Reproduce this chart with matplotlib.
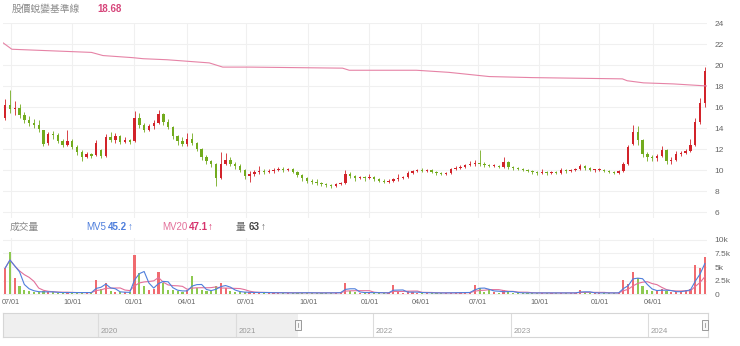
import numpy as np
import pandas as pd
import matplotlib
matplotlib.use('Agg')
import matplotlib.pyplot as plt
from matplotlib.patches import Rectangle

plt.rcParams['font.family'] = ['Liberation Sans', 'Noto Sans CJK TC', 'DejaVu Sans']

# weekly bars (5 trading days each), first week starts 2021-06-21
open_ = [15.0, 16.2, 15.8, 15.9, 15.2, 14.8, 14.5, 14.3, 13.8, 12.6,
         13.4, 13.3, 12.8, 12.4, 12.8, 12.2, 11.7, 11.2, 11.5, 11.4,
         11.9, 11.3, 13.1, 12.9, 13.2, 12.7, 12.9, 12.8, 15.0, 14.3,
         13.8, 14.2, 14.5, 15.3, 14.6, 14.1, 13.2, 12.8, 12.5, 13.0,
         12.6, 12.0, 11.2, 10.9, 10.6, 9.2, 10.6, 11.0, 10.6, 10.4,
         10.0, 9.4, 9.6, 9.8, 9.9, 9.8, 9.9, 10.0, 10.1, 10.0,
         10.1, 9.8, 9.5, 9.2, 9.0, 8.9, 8.8, 8.7, 8.6, 8.5,
         8.7, 8.8, 9.6, 9.4, 9.2, 9.3, 9.2, 9.3, 9.1, 9.0,
         8.9, 9.0, 9.1, 9.2, 9.3, 9.7, 9.9, 10.0, 9.9, 10.0,
         9.8, 9.7, 9.6, 9.7, 10.1, 10.2, 10.3, 10.5, 10.6, 10.7,
         10.6, 10.5, 10.4, 10.4, 10.3, 10.8, 10.3, 10.2, 10.1, 10.0,
         9.9, 9.8, 9.7, 9.8, 9.7, 9.8, 9.7, 10.0, 9.9, 10.0,
         10.1, 10.4, 10.2, 10.0, 10.0, 10.0, 9.9, 9.8, 9.7, 9.9,
         10.6, 12.5, 13.6, 12.9, 11.5, 11.2, 11.1, 11.3, 11.9, 10.9,
         11.0, 11.5, 11.6, 11.8, 12.4, 14.6, 16.4]
close = [16.2, 15.8, 15.9, 15.2, 14.8, 14.5, 14.3, 13.9, 12.5, 13.4,
         13.3, 12.8, 12.4, 12.8, 12.2, 11.7, 11.2, 11.5, 11.3, 12.6,
         11.3, 13.1, 12.9, 13.2, 12.7, 12.9, 12.7, 15.0, 14.3, 13.8,
         14.2, 14.5, 15.3, 14.6, 14.1, 13.2, 12.8, 12.5, 13.0, 12.6,
         12.0, 11.2, 10.9, 10.6, 9.2, 10.6, 11.0, 10.6, 10.4, 10.0,
         9.4, 9.6, 9.8, 9.9, 9.8, 9.9, 10.0, 10.1, 10.0, 10.1,
         9.8, 9.5, 9.2, 9.0, 8.9, 8.8, 8.7, 8.6, 8.5, 8.7,
         8.8, 9.6, 9.4, 9.2, 9.3, 9.2, 9.3, 9.1, 9.0, 8.9,
         9.0, 9.1, 9.2, 9.3, 9.7, 9.9, 10.0, 9.9, 10.0, 9.8,
         9.7, 9.6, 9.7, 10.1, 10.2, 10.3, 10.5, 10.6, 10.7, 10.6,
         10.5, 10.4, 10.5, 10.3, 10.8, 10.3, 10.2, 10.1, 10.0, 9.9,
         9.8, 9.7, 9.8, 9.7, 9.8, 9.7, 10.0, 9.9, 10.0, 10.1,
         10.4, 10.2, 10.0, 10.0, 10.0, 9.9, 9.8, 9.7, 9.9, 10.6,
         12.2, 13.6, 12.9, 11.5, 11.2, 11.1, 11.3, 11.9, 10.9, 11.0,
         11.5, 11.6, 11.8, 12.4, 14.6, 16.4, 19.4]
high = [16.8, 17.6, 16.6, 16.3, 15.5, 15.1, 14.9, 14.8, 13.8, 13.6,
        13.7, 13.5, 13.0, 13.8, 13.0, 12.4, 11.9, 11.7, 11.6, 12.9,
        12.0, 13.4, 13.6, 13.5, 13.3, 13.1, 13.0, 15.6, 15.4, 14.5,
        14.4, 14.8, 15.7, 15.4, 14.9, 14.2, 13.3, 13.1, 13.5, 13.5,
        12.7, 12.1, 11.4, 11.0, 10.7, 11.7, 11.6, 11.2, 10.8, 10.6,
        10.1, 9.9, 10.0, 10.4, 10.1, 10.1, 10.2, 10.3, 10.3, 10.2,
        10.2, 9.9, 9.6, 9.3, 9.1, 9.1, 8.9, 8.8, 8.7, 8.8,
        8.9, 10.0, 9.8, 9.5, 9.4, 9.4, 9.6, 9.4, 9.2, 9.1,
        9.1, 9.2, 9.6, 9.4, 9.9, 10.0, 10.1, 10.2, 10.1, 10.1,
        9.9, 9.8, 9.8, 10.2, 10.4, 10.5, 10.6, 10.9, 11.0, 11.9,
        10.8, 10.6, 10.6, 10.5, 11.2, 10.9, 10.4, 10.3, 10.2, 10.1,
        10.0, 9.9, 10.1, 9.9, 9.9, 9.9, 10.2, 10.1, 10.1, 10.2,
        10.6, 10.5, 10.3, 10.1, 10.2, 10.1, 10.0, 9.9, 10.0, 10.8,
        12.4, 14.3, 14.2, 13.0, 11.7, 11.4, 11.5, 12.3, 12.0, 11.2,
        11.8, 11.8, 12.0, 13.0, 15.0, 16.9, 19.8]
low = [14.8, 15.4, 15.2, 15.0, 14.5, 14.2, 14.0, 13.6, 12.3, 12.4,
       13.0, 12.6, 12.2, 12.3, 12.0, 11.4, 10.9, 11.1, 11.1, 11.3,
       11.1, 11.2, 12.7, 12.6, 12.5, 12.6, 12.5, 12.7, 14.0, 13.6,
       13.7, 13.9, 14.4, 14.3, 13.9, 13.0, 12.4, 12.3, 12.3, 12.4,
       11.8, 11.0, 10.6, 10.3, 8.5, 9.1, 10.5, 10.4, 10.1, 9.8,
       9.1, 8.9, 9.4, 9.6, 9.6, 9.7, 9.7, 9.9, 9.8, 9.9,
       9.7, 9.3, 9.0, 8.8, 8.7, 8.6, 8.5, 8.4, 8.3, 8.4,
       8.6, 8.7, 9.2, 9.0, 9.1, 9.0, 9.1, 9.0, 8.9, 8.8,
       8.8, 8.9, 9.0, 9.1, 9.2, 9.6, 9.8, 9.8, 9.8, 9.7,
       9.5, 9.5, 9.5, 9.6, 10.0, 10.1, 10.2, 10.4, 10.4, 10.4,
       10.3, 10.3, 10.3, 10.2, 10.2, 10.1, 10.0, 10.0, 9.9, 9.8,
       9.6, 9.5, 9.6, 9.5, 9.6, 9.6, 9.6, 9.7, 9.8, 9.9,
       10.0, 10.0, 9.9, 9.8, 9.9, 9.8, 9.7, 9.6, 9.6, 9.8,
       10.5, 12.4, 12.4, 11.2, 10.9, 10.9, 10.9, 11.2, 10.6, 10.6,
       10.9, 11.3, 11.5, 11.7, 12.3, 14.4, 16.0]
volume = [4800, 7800, 3000, 1500, 800, 600, 400, 300, 500, 400,
          300, 250, 250, 300, 250, 250, 300, 250, 250, 2600,
          900, 2000, 500, 400, 300, 300, 300, 7200, 3800, 1500,
          800, 1000, 4000, 2000, 800, 700, 600, 400, 700, 3300,
          1200, 800, 500, 600, 1500, 2000, 1200, 600, 400, 350,
          300, 300, 250, 300, 250, 250, 200, 250, 200, 200,
          200, 250, 250, 200, 200, 200, 200, 200, 200, 250,
          300, 2000, 600, 300, 250, 250, 300, 250, 200, 200,
          200, 1700, 300, 250, 500, 300, 250, 250, 200, 200,
          200, 200, 200, 250, 250, 250, 300, 300, 1700, 1200,
          400, 1000, 300, 250, 700, 400, 250, 200, 200, 200,
          200, 200, 200, 200, 200, 200, 250, 200, 200, 200,
          700, 300, 200, 200, 200, 200, 200, 200, 200, 2600,
          1800, 4000, 3000, 1500, 800, 500, 600, 1000, 500, 400,
          400, 500, 800, 1000, 5300, 4800, 6800]

# 股價蛻變基準線
base_dates = ['2021-06-21', '2021-07-02', '2021-11-01', '2021-11-17', '2021-12-30',
              '2022-01-17', '2022-03-03', '2022-05-09', '2022-05-27', '2022-07-07',
              '2022-11-23', '2022-12-02', '2023-03-27', '2023-05-18', '2023-07-19',
              '2023-09-20', '2024-02-05', '2024-02-21', '2024-03-18', '2024-05-03',
              '2024-06-24']
base_vals = [22.1, 21.5, 21.2, 20.9, 20.7, 20.6, 20.5, 20.2, 19.8, 19.8,
             19.7, 19.5, 19.5, 19.3, 18.9, 18.8, 18.68, 18.5, 18.3, 18.2, 18.0]

# market closed days (TWSE)
holidays = ['2021-09-20', '2021-09-21', '2021-10-11', '2021-12-31',
            '2022-01-27', '2022-01-28', '2022-01-31', '2022-02-01', '2022-02-02',
            '2022-02-03', '2022-02-04', '2022-02-28', '2022-04-04', '2022-04-05',
            '2022-05-02', '2022-06-03', '2022-09-09', '2022-10-10',
            '2023-01-02', '2023-01-18', '2023-01-19', '2023-01-20', '2023-01-23',
            '2023-01-24', '2023-01-25', '2023-01-26', '2023-01-27', '2023-02-27',
            '2023-02-28', '2023-04-03', '2023-04-04', '2023-04-05', '2023-05-01',
            '2023-06-22', '2023-06-23', '2023-09-29', '2023-10-09', '2023-10-10',
            '2024-01-01', '2024-02-06', '2024-02-07', '2024-02-08', '2024-02-09',
            '2024-02-12', '2024-02-13', '2024-02-14', '2024-02-28', '2024-04-04',
            '2024-04-05', '2024-05-01']

nav_years = [2020, 2021, 2022, 2023, 2024]
nav_range = (2019.309, 2024.436)
nav_selected = 2021.455

header_base = '18.68'
header_mv5, header_mv20, header_vol = '45.2', '47.1', '63'

UP, DOWN = '#d2232a', '#72ab1e'
UP_V, DOWN_V = '#ef5b60', '#82c43e'
GRID = '#f0f0f0'
TXT = '#666666'

days = pd.bdate_range('2021-06-21', periods=760, freq='C', holidays=holidays)


def pos(d):
    # trading-day ordinal -> weekly bar coordinate
    return days.searchsorted(pd.Timestamp(d)) / 5 - 0.4


o = np.array(open_); c = np.array(close)
h = np.array(high); l = np.array(low)
vol = pd.Series(volume, dtype=float)
x = np.arange(len(o))
up = c >= o

W, H = 740, 346
fig = plt.figure(figsize=(W / 100, H / 100), dpi=100)


def rect(left, top, right, bottom):
    return [left / W, 1 - bottom / H, (right - left) / W, (bottom - top) / H]


def ftext(px, py, s, **kw):
    fig.text(px / W, 1 - py / H, s, va='center', ha='left', **kw)


qstarts = pd.date_range('2021-07-01', '2024-04-01', freq='QS')
qpos = [pos(d) for d in qstarts]
qlab = [d.strftime('%m/%d') for d in qstarts]
xlim = (-0.45, 146.45)

# price panel
ax = fig.add_axes(rect(3, 23, 707, 218))
ax.set_xlim(*xlim)
ax.set_ylim(5.43, 24)
for xx in qpos:
    ax.axvline(xx, color=GRID, lw=0.8, zorder=0)
ax.set_yticks(np.arange(6, 25, 2))
ax.grid(axis='y', color=GRID, lw=0.8)
ax.set_axisbelow(True)
ax.yaxis.tick_right()
ax.tick_params(axis='y', length=0, pad=5.5, labelsize=6, labelcolor=TXT)
ax.set_xticks([])
for s in ax.spines.values():
    s.set_visible(False)

cols = np.where(up, UP, DOWN)
ax.vlines(x, l, h, colors=cols, lw=0.6, zorder=2)
body = np.maximum(np.abs(c - o), 0.08)
ax.bar(x, body, bottom=np.minimum(o, c), width=0.5, color=cols, lw=0, zorder=3)

bx = [pos(d) for d in base_dates]
ax.plot(bx, base_vals, color='#e683a6', lw=0.8, zorder=4)

# volume panel
av = fig.add_axes(rect(3, 238, 707, 296))
av.set_xlim(*xlim)
av.set_ylim(-370, 10370)
for xx in qpos:
    av.axvline(xx, color=GRID, lw=0.8, zorder=0)
av.set_yticks([0, 2500, 5000, 7500, 10000])
av.set_yticklabels(['0', '2.5k', '5k', '7.5k', '10k'])
av.grid(axis='y', color=GRID, lw=0.8)
av.set_axisbelow(True)
av.yaxis.tick_right()
av.tick_params(axis='y', length=0, pad=5.5, labelsize=6, labelcolor=TXT)
av.set_xticks(qpos)
av.set_xticklabels(qlab)
av.tick_params(axis='x', length=0, pad=2, labelsize=5.2, labelcolor=TXT)
for s in av.spines.values():
    s.set_visible(False)

av.bar(x, vol, width=0.45, color=np.where(up, UP_V, DOWN_V), lw=0, alpha=0.9, zorder=2)
mv5 = vol.rolling(3, min_periods=1).mean()
mv20 = vol.rolling(6, min_periods=1).mean()
av.plot(x, mv20, color='#e3709a', lw=0.8, zorder=3)
av.plot(x, mv5, color='#4f7fdc', lw=0.8, zorder=4)

# navigator
an = fig.add_axes(rect(3, 313, 708, 337))
an.set_xlim(*nav_range)
an.set_ylim(0, 1)
an.set_xticks([]); an.set_yticks([])
for s in an.spines.values():
    s.set_color('#d6d6d6'); s.set_linewidth(0.8)
an.axvspan(nav_range[0], nav_selected, color='#efefef', lw=0, zorder=0)
for yr in nav_years:
    an.axvline(yr, color='#dcdcdc', lw=0.8, zorder=1)
    an.text(yr + 0.02, 0.22, str(yr), fontsize=5.6, color='#9a9a9a', va='center')
hw = 6 / 137.5
for hx in (nav_selected, nav_range[1] - hw / 2):
    an.add_patch(Rectangle((hx - hw / 2, 0.3), hw, 0.42, facecolor='#f7f7f7',
                           edgecolor='#999999', lw=0.7, zorder=5, clip_on=False))
    an.plot([hx, hx], [0.42, 0.6], color='#999999', lw=0.6, zorder=6, clip_on=False)

# headers
ftext(12, 9, '股價蛻變基準線', fontsize=7, color='#8a8a8a')
ftext(97, 9, header_base, fontsize=7, color='#d6457a', fontweight='bold')
ftext(10, 227, '成交量', fontsize=7, color='#8a8a8a')
ftext(86, 227, 'MV5', fontsize=7, color='#4f7fdc')
ftext(108, 227, header_mv5, fontsize=7, color='#4f7fdc', fontweight='bold')
ftext(128, 227, '↑', fontsize=7, color='#4f7fdc')
ftext(162, 227, 'MV20', fontsize=7, color='#e3709a')
ftext(189, 227, header_mv20, fontsize=7, color='#d6336c', fontweight='bold')
ftext(208, 227, '↑', fontsize=7, color='#d6336c')
ftext(236, 227, '量', fontsize=7, color='#666666')
ftext(249, 227, header_vol, fontsize=7, color='#444444', fontweight='bold')
ftext(261, 227, '↑', fontsize=7, color='#666666')

fig.savefig('out.png', dpi=100)
